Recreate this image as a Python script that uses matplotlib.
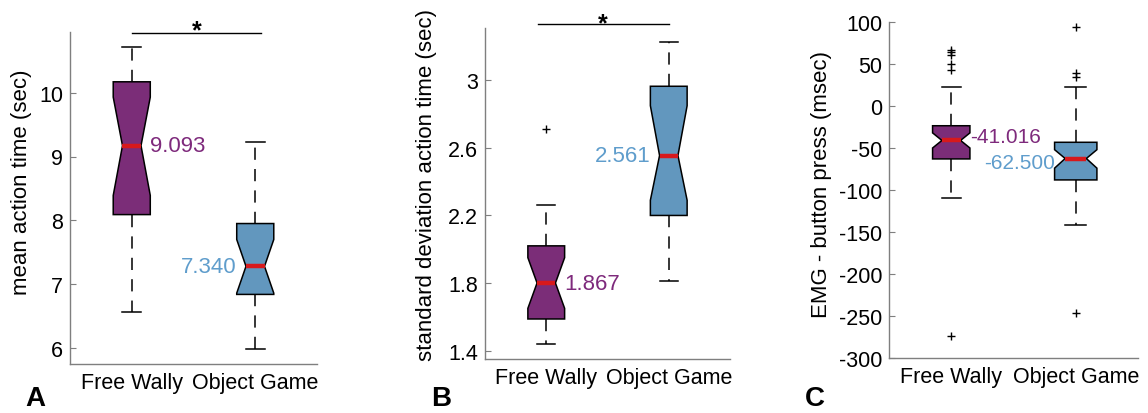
import matplotlib.pyplot as plt

plt.rcParams['font.family'] = ['Liberation Sans', 'DejaVu Sans']

groups = ['Free Wally', 'Object Game']
box_fill = ['#7b2d78', '#6297be']
text_col = ['#7e2a7c', '#5f9dcc']
median_col = '#d7191c'
spine_col = '#7f7f7f'

# A: mean action time (sec)
a_med = [9.17, 7.28]
a_q1 = [8.09, 6.84]
a_q3 = [10.17, 7.95]
a_lo = [6.56, 5.98]
a_hi = [10.72, 9.23]
a_cilo = [8.39, 6.86]
a_cihi = [9.93, 7.70]
a_fliers = [[], []]
a_means = [9.093, 7.340]
a_ticks = [6, 7, 8, 9, 10]
a_ticklabels = ['6', '7', '8', '9', '10']

# B: standard deviation of action time (sec)
b_med = [1.80, 2.555]
b_q1 = [1.587, 2.20]
b_q3 = [2.02, 2.965]
b_lo = [1.44, 1.81]
b_hi = [2.26, 3.23]
b_cilo = [1.65, 2.29]
b_cihi = [1.95, 2.85]
b_fliers = [[2.71], []]
b_means = [1.867, 2.561]
b_ticks = [1.4, 1.8, 2.2, 2.6, 3.0]
b_ticklabels = ['1.4', '1.8', '2.2', '2.6', '3']

# C: EMG onset minus button press (msec)
c_med = [-41.0, -62.5]
c_q1 = [-63.0, -88.0]
c_q3 = [-23.5, -43.2]
c_lo = [-109.6, -141.6]
c_hi = [23.0, 23.0]
c_cilo = [-50.0, -74.0]
c_cihi = [-32.0, -52.0]
c_fliers = [[66.5, 64.0, 61.0, 50.5, 42.6, -274.0], [93.5, 39.4, 34.2, -246.8]]
c_means = [-41.016, -62.500]
c_ticks = [-300, -250, -200, -150, -100, -50, 0, 50, 100]
c_ticklabels = [str(t) for t in c_ticks]


def draw_panel(ax, med, q1, q3, lo, hi, cilo, cihi, fliers, means, widths,
               ylim, ticks, ticklabels, ylabel, ylabel_x, ylabel_y,
               val_size=16, val_dy=(0, 0)):
    stats = []
    for i in range(2):
        stats.append(dict(med=med[i], q1=q1[i], q3=q3[i], whislo=lo[i],
                          whishi=hi[i], cilo=cilo[i], cihi=cihi[i],
                          fliers=fliers[i], label=groups[i]))
    bp = ax.bxp(stats, positions=[1, 2], widths=widths, shownotches=True,
                patch_artist=True,
                boxprops=dict(edgecolor='black', linewidth=1.1),
                whiskerprops=dict(color='black', linewidth=1.1, linestyle=(0, (8, 6))),
                capprops=dict(color='black', linewidth=1.1),
                medianprops=dict(color=median_col, linewidth=3.2, solid_capstyle='butt'),
                flierprops=dict(marker='+', markersize=6, markeredgecolor='black',
                                markeredgewidth=1.0, linestyle='none'))
    for patch, c in zip(bp['boxes'], box_fill):
        patch.set_facecolor(c)

    # mean values written next to each box, at the median height
    ax.annotate('%.3f' % means[0], xy=(1 + widths[0] / 2, med[0]),
                xytext=(0, val_dy[0]), textcoords='offset points',
                color=text_col[0], fontsize=val_size, ha='left', va='center')
    ax.annotate('%.3f' % means[1], xy=(2 - widths[1] / 2, med[1]),
                xytext=(0, val_dy[1]), textcoords='offset points',
                color=text_col[1], fontsize=val_size, ha='right', va='center')

    ax.set_xlim(0.5, 2.5)
    ax.set_ylim(*ylim)
    ax.set_yticks(ticks)
    ax.set_yticklabels(ticklabels)
    ax.set_ylabel(ylabel, fontsize=16)
    ax.yaxis.set_label_coords(ylabel_x, ylabel_y)
    ax.tick_params(axis='y', direction='in', length=4, color=spine_col,
                   labelsize=15.5, pad=5)
    ax.tick_params(axis='x', length=0, labelsize=15.5, pad=6)
    for s in ['top', 'right']:
        ax.spines[s].set_visible(False)
    for s in ['left', 'bottom']:
        ax.spines[s].set_color(spine_col)
        ax.spines[s].set_linewidth(1.0)


W, H = 1148, 414
fig = plt.figure(figsize=(W / 100, H / 100), dpi=100)

axA = fig.add_axes([70 / W, (H - 365) / H, 247 / W, 332 / H])
axB = fig.add_axes([485 / W, (H - 360) / H, 245 / W, 331 / H])
axC = fig.add_axes([889 / W, (H - 359) / H, 249 / W, 336 / H])

draw_panel(axA, a_med, a_q1, a_q3, a_lo, a_hi, a_cilo, a_cihi, a_fliers, a_means,
           [0.3, 0.3], (5.75, 10.95), a_ticks, a_ticklabels,
           'mean action time (sec)', -0.154, 0.55)
draw_panel(axB, b_med, b_q1, b_q3, b_lo, b_hi, b_cilo, b_cihi, b_fliers, b_means,
           [0.3, 0.3], (1.35, 3.31), b_ticks, b_ticklabels,
           'standard deviation action time (sec)', -0.196, 0.53)
draw_panel(axC, c_med, c_q1, c_q3, c_lo, c_hi, c_cilo, c_cihi, c_fliers, c_means,
           [0.3, 0.34], (-300, 100), c_ticks, c_ticklabels,
           'EMG - button press (msec)', -0.229, 0.52,
           val_size=15, val_dy=(2.8, -2.8))

# significance bars with the star just above
axA.plot([1.0, 2.05], [10.93, 10.93], color='black', linewidth=1.0, clip_on=False)
axA.text(1.53, 10.86, '*', fontsize=18, fontweight='bold', ha='center', va='baseline')
axB.plot([0.93, 2.0], [3.335, 3.335], color='black', linewidth=1.0, clip_on=False)
axB.text(1.46, 3.298, '*', fontsize=18, fontweight='bold', ha='center', va='baseline')

# panel letters
for x, letter in [(25, 'A'), (431, 'B'), (805, 'C')]:
    fig.text(x / W, 2 / H, letter, fontsize=20, fontweight='bold',
             ha='left', va='bottom')

fig.savefig('out.png', dpi=100)
